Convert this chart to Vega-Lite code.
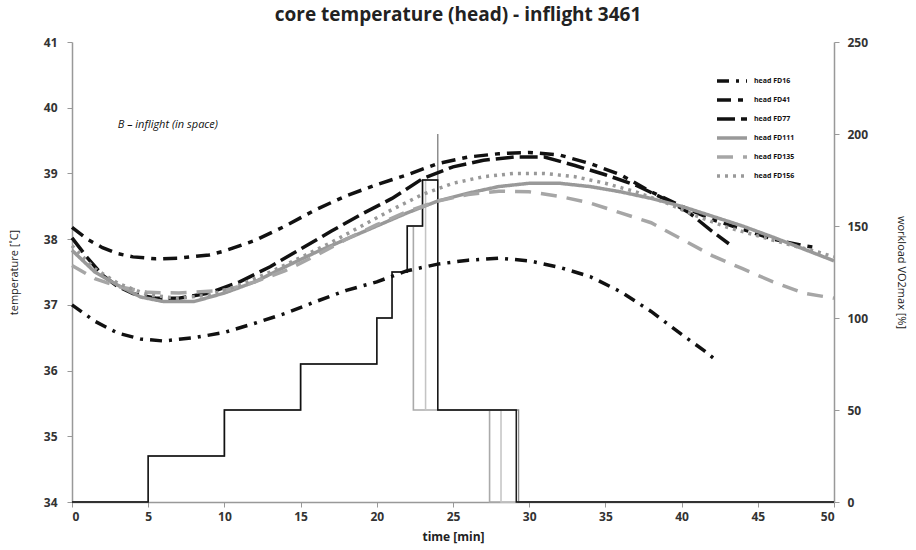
{
  "$schema": "https://vega.github.io/schema/vega-lite/v6.json",
  "width": 762,
  "height": 460,
  "autosize": {"type": "none"},
  "padding": {"left": 72, "top": 42, "right": 82, "bottom": 48},
  "background": "white",
  "title": {"text": "core temperature (head) - inflight 3461", "font": "Open Sans", "fontSize": 19, "fontWeight": "bold", "color": "#222", "offset": 11, "dx": 5},
  "config": {
    "view": {"stroke": null},
    "axis": {"grid": false, "labelFont": "Open Sans", "labelFontWeight": "bold", "labelFontSize": 12, "labelColor": "#333", "domainColor": "#999", "tickColor": "#999", "domainWidth": 1.5, "tickSize": 5, "titleFont": "Open Sans", "titleColor": "#222", "titleFontWeight": "normal", "titleFontSize": 11}
  },
  "datasets": {
    "temp": [
      {"s": "head FD16", "t": 0, "v": 37.0}, {"s": "head FD16", "t": 1.5, "v": 36.75}, {"s": "head FD16", "t": 3, "v": 36.57}, {"s": "head FD16", "t": 4.5, "v": 36.48}, {"s": "head FD16", "t": 6, "v": 36.45}, {"s": "head FD16", "t": 8, "v": 36.5}, {"s": "head FD16", "t": 10, "v": 36.58}, {"s": "head FD16", "t": 12, "v": 36.72}, {"s": "head FD16", "t": 14, "v": 36.87}, {"s": "head FD16", "t": 16, "v": 37.05}, {"s": "head FD16", "t": 18, "v": 37.22}, {"s": "head FD16", "t": 20, "v": 37.35}, {"s": "head FD16", "t": 22, "v": 37.52}, {"s": "head FD16", "t": 24, "v": 37.62}, {"s": "head FD16", "t": 26, "v": 37.68}, {"s": "head FD16", "t": 28, "v": 37.71}, {"s": "head FD16", "t": 30, "v": 37.67}, {"s": "head FD16", "t": 32, "v": 37.57}, {"s": "head FD16", "t": 34, "v": 37.43}, {"s": "head FD16", "t": 36, "v": 37.2}, {"s": "head FD16", "t": 38, "v": 36.9}, {"s": "head FD16", "t": 40, "v": 36.55}, {"s": "head FD16", "t": 41.5, "v": 36.3}, {"s": "head FD16", "t": 42.4, "v": 36.13},
      {"s": "head FD41", "t": 0, "v": 38.18}, {"s": "head FD41", "t": 1, "v": 38.0}, {"s": "head FD41", "t": 2, "v": 37.87}, {"s": "head FD41", "t": 3, "v": 37.78}, {"s": "head FD41", "t": 4, "v": 37.73}, {"s": "head FD41", "t": 5.5, "v": 37.7}, {"s": "head FD41", "t": 7, "v": 37.71}, {"s": "head FD41", "t": 9, "v": 37.76}, {"s": "head FD41", "t": 10, "v": 37.82}, {"s": "head FD41", "t": 12, "v": 37.98}, {"s": "head FD41", "t": 14, "v": 38.2}, {"s": "head FD41", "t": 16, "v": 38.45}, {"s": "head FD41", "t": 18, "v": 38.66}, {"s": "head FD41", "t": 20, "v": 38.83}, {"s": "head FD41", "t": 22, "v": 38.98}, {"s": "head FD41", "t": 24, "v": 39.15}, {"s": "head FD41", "t": 26, "v": 39.25}, {"s": "head FD41", "t": 28, "v": 39.3}, {"s": "head FD41", "t": 30, "v": 39.32}, {"s": "head FD41", "t": 32, "v": 39.28}, {"s": "head FD41", "t": 34, "v": 39.15}, {"s": "head FD41", "t": 36, "v": 38.98}, {"s": "head FD41", "t": 38, "v": 38.72}, {"s": "head FD41", "t": 40, "v": 38.5}, {"s": "head FD41", "t": 42, "v": 38.3}, {"s": "head FD41", "t": 44, "v": 38.15}, {"s": "head FD41", "t": 46, "v": 38.0}, {"s": "head FD41", "t": 48, "v": 37.9}, {"s": "head FD41", "t": 48.9, "v": 37.87},
      {"s": "head FD77", "t": 0, "v": 38.02}, {"s": "head FD77", "t": 1, "v": 37.72}, {"s": "head FD77", "t": 2, "v": 37.45}, {"s": "head FD77", "t": 3, "v": 37.28}, {"s": "head FD77", "t": 4, "v": 37.17}, {"s": "head FD77", "t": 5.5, "v": 37.1}, {"s": "head FD77", "t": 7, "v": 37.1}, {"s": "head FD77", "t": 9, "v": 37.18}, {"s": "head FD77", "t": 11, "v": 37.35}, {"s": "head FD77", "t": 13, "v": 37.58}, {"s": "head FD77", "t": 15, "v": 37.85}, {"s": "head FD77", "t": 17, "v": 38.12}, {"s": "head FD77", "t": 19, "v": 38.38}, {"s": "head FD77", "t": 21, "v": 38.62}, {"s": "head FD77", "t": 23, "v": 38.92}, {"s": "head FD77", "t": 25, "v": 39.1}, {"s": "head FD77", "t": 27, "v": 39.2}, {"s": "head FD77", "t": 29, "v": 39.25}, {"s": "head FD77", "t": 31, "v": 39.25}, {"s": "head FD77", "t": 33, "v": 39.12}, {"s": "head FD77", "t": 35, "v": 38.98}, {"s": "head FD77", "t": 37, "v": 38.82}, {"s": "head FD77", "t": 39, "v": 38.6}, {"s": "head FD77", "t": 40.5, "v": 38.4}, {"s": "head FD77", "t": 42, "v": 38.12}, {"s": "head FD77", "t": 43.1, "v": 37.93},
      {"s": "head FD111", "t": 0, "v": 37.83}, {"s": "head FD111", "t": 1.5, "v": 37.5}, {"s": "head FD111", "t": 3, "v": 37.3}, {"s": "head FD111", "t": 4.5, "v": 37.12}, {"s": "head FD111", "t": 6, "v": 37.05}, {"s": "head FD111", "t": 8, "v": 37.05}, {"s": "head FD111", "t": 10, "v": 37.18}, {"s": "head FD111", "t": 12, "v": 37.35}, {"s": "head FD111", "t": 14, "v": 37.58}, {"s": "head FD111", "t": 16, "v": 37.8}, {"s": "head FD111", "t": 18, "v": 38.0}, {"s": "head FD111", "t": 20, "v": 38.2}, {"s": "head FD111", "t": 22, "v": 38.4}, {"s": "head FD111", "t": 24, "v": 38.58}, {"s": "head FD111", "t": 26, "v": 38.7}, {"s": "head FD111", "t": 28, "v": 38.8}, {"s": "head FD111", "t": 30, "v": 38.85}, {"s": "head FD111", "t": 32, "v": 38.85}, {"s": "head FD111", "t": 34, "v": 38.8}, {"s": "head FD111", "t": 36, "v": 38.72}, {"s": "head FD111", "t": 38, "v": 38.62}, {"s": "head FD111", "t": 40, "v": 38.5}, {"s": "head FD111", "t": 42, "v": 38.35}, {"s": "head FD111", "t": 44, "v": 38.2}, {"s": "head FD111", "t": 46, "v": 38.03}, {"s": "head FD111", "t": 48, "v": 37.85}, {"s": "head FD111", "t": 50, "v": 37.67},
      {"s": "head FD135", "t": 0, "v": 37.6}, {"s": "head FD135", "t": 1.5, "v": 37.4}, {"s": "head FD135", "t": 3, "v": 37.28}, {"s": "head FD135", "t": 5, "v": 37.19}, {"s": "head FD135", "t": 7, "v": 37.18}, {"s": "head FD135", "t": 10, "v": 37.22}, {"s": "head FD135", "t": 12, "v": 37.35}, {"s": "head FD135", "t": 14, "v": 37.52}, {"s": "head FD135", "t": 16, "v": 37.75}, {"s": "head FD135", "t": 18, "v": 38.0}, {"s": "head FD135", "t": 20, "v": 38.22}, {"s": "head FD135", "t": 22, "v": 38.42}, {"s": "head FD135", "t": 24, "v": 38.58}, {"s": "head FD135", "t": 26, "v": 38.68}, {"s": "head FD135", "t": 28, "v": 38.73}, {"s": "head FD135", "t": 30, "v": 38.72}, {"s": "head FD135", "t": 32, "v": 38.65}, {"s": "head FD135", "t": 34, "v": 38.55}, {"s": "head FD135", "t": 36, "v": 38.4}, {"s": "head FD135", "t": 38, "v": 38.25}, {"s": "head FD135", "t": 40, "v": 38.0}, {"s": "head FD135", "t": 42, "v": 37.75}, {"s": "head FD135", "t": 44, "v": 37.55}, {"s": "head FD135", "t": 46, "v": 37.35}, {"s": "head FD135", "t": 48, "v": 37.18}, {"s": "head FD135", "t": 50, "v": 37.1},
      {"s": "head FD156", "t": 0, "v": 37.9}, {"s": "head FD156", "t": 1.5, "v": 37.55}, {"s": "head FD156", "t": 3, "v": 37.33}, {"s": "head FD156", "t": 5, "v": 37.15}, {"s": "head FD156", "t": 7, "v": 37.1}, {"s": "head FD156", "t": 9, "v": 37.15}, {"s": "head FD156", "t": 11, "v": 37.3}, {"s": "head FD156", "t": 13, "v": 37.5}, {"s": "head FD156", "t": 15, "v": 37.72}, {"s": "head FD156", "t": 17, "v": 37.95}, {"s": "head FD156", "t": 19, "v": 38.2}, {"s": "head FD156", "t": 21, "v": 38.45}, {"s": "head FD156", "t": 23, "v": 38.68}, {"s": "head FD156", "t": 25, "v": 38.85}, {"s": "head FD156", "t": 27, "v": 38.95}, {"s": "head FD156", "t": 29, "v": 39.0}, {"s": "head FD156", "t": 31, "v": 39.0}, {"s": "head FD156", "t": 33, "v": 38.95}, {"s": "head FD156", "t": 35, "v": 38.85}, {"s": "head FD156", "t": 37, "v": 38.72}, {"s": "head FD156", "t": 39, "v": 38.55}, {"s": "head FD156", "t": 41, "v": 38.35}, {"s": "head FD156", "t": 43, "v": 38.18}, {"s": "head FD156", "t": 45, "v": 38.05}, {"s": "head FD156", "t": 47, "v": 37.92}, {"s": "head FD156", "t": 49, "v": 37.8}, {"s": "head FD156", "t": 50, "v": 37.73}
    ],
    "load": [
      {"p": "W1", "i": 1, "t": 0, "w": 0}, {"p": "W1", "i": 2, "t": 5, "w": 0}, {"p": "W1", "i": 3, "t": 5, "w": 25}, {"p": "W1", "i": 4, "t": 10, "w": 25}, {"p": "W1", "i": 5, "t": 10, "w": 50}, {"p": "W1", "i": 6, "t": 15, "w": 50}, {"p": "W1", "i": 7, "t": 15, "w": 75}, {"p": "W1", "i": 8, "t": 20, "w": 75}, {"p": "W1", "i": 9, "t": 20, "w": 100}, {"p": "W1", "i": 10, "t": 21, "w": 100}, {"p": "W1", "i": 11, "t": 21, "w": 125}, {"p": "W1", "i": 12, "t": 22, "w": 125}, {"p": "W1", "i": 13, "t": 22, "w": 150}, {"p": "W1", "i": 14, "t": 22.4, "w": 150}, {"p": "W1", "i": 15, "t": 22.4, "w": 50}, {"p": "W1", "i": 16, "t": 27.4, "w": 50}, {"p": "W1", "i": 17, "t": 27.4, "w": 0}, {"p": "W1", "i": 18, "t": 50, "w": 0},
      {"p": "W2", "i": 1, "t": 0, "w": 0}, {"p": "W2", "i": 2, "t": 5, "w": 0}, {"p": "W2", "i": 3, "t": 5, "w": 25}, {"p": "W2", "i": 4, "t": 10, "w": 25}, {"p": "W2", "i": 5, "t": 10, "w": 50}, {"p": "W2", "i": 6, "t": 15, "w": 50}, {"p": "W2", "i": 7, "t": 15, "w": 75}, {"p": "W2", "i": 8, "t": 20, "w": 75}, {"p": "W2", "i": 9, "t": 20, "w": 100}, {"p": "W2", "i": 10, "t": 21, "w": 100}, {"p": "W2", "i": 11, "t": 21, "w": 125}, {"p": "W2", "i": 12, "t": 22, "w": 125}, {"p": "W2", "i": 13, "t": 22, "w": 150}, {"p": "W2", "i": 14, "t": 23, "w": 150}, {"p": "W2", "i": 15, "t": 23, "w": 175}, {"p": "W2", "i": 16, "t": 23.2, "w": 175}, {"p": "W2", "i": 17, "t": 23.2, "w": 50}, {"p": "W2", "i": 18, "t": 28.15, "w": 50}, {"p": "W2", "i": 19, "t": 28.15, "w": 0}, {"p": "W2", "i": 20, "t": 50, "w": 0},
      {"p": "W3", "i": 1, "t": 0, "w": 0}, {"p": "W3", "i": 2, "t": 5, "w": 0}, {"p": "W3", "i": 3, "t": 5, "w": 25}, {"p": "W3", "i": 4, "t": 10, "w": 25}, {"p": "W3", "i": 5, "t": 10, "w": 50}, {"p": "W3", "i": 6, "t": 15, "w": 50}, {"p": "W3", "i": 7, "t": 15, "w": 75}, {"p": "W3", "i": 8, "t": 20, "w": 75}, {"p": "W3", "i": 9, "t": 20, "w": 100}, {"p": "W3", "i": 10, "t": 21, "w": 100}, {"p": "W3", "i": 11, "t": 21, "w": 125}, {"p": "W3", "i": 12, "t": 22, "w": 125}, {"p": "W3", "i": 13, "t": 22, "w": 150}, {"p": "W3", "i": 14, "t": 23, "w": 150}, {"p": "W3", "i": 15, "t": 23, "w": 175}, {"p": "W3", "i": 16, "t": 24, "w": 175}, {"p": "W3", "i": 17, "t": 24, "w": 200}, {"p": "W3", "i": 18, "t": 24, "w": 50}, {"p": "W3", "i": 19, "t": 29.3, "w": 50}, {"p": "W3", "i": 20, "t": 29.3, "w": 0}, {"p": "W3", "i": 21, "t": 50, "w": 0},
      {"p": "W4", "i": 1, "t": 0, "w": 0}, {"p": "W4", "i": 2, "t": 5, "w": 0}, {"p": "W4", "i": 3, "t": 5, "w": 25}, {"p": "W4", "i": 4, "t": 10, "w": 25}, {"p": "W4", "i": 5, "t": 10, "w": 50}, {"p": "W4", "i": 6, "t": 15, "w": 50}, {"p": "W4", "i": 7, "t": 15, "w": 75}, {"p": "W4", "i": 8, "t": 20, "w": 75}, {"p": "W4", "i": 9, "t": 20, "w": 100}, {"p": "W4", "i": 10, "t": 21, "w": 100}, {"p": "W4", "i": 11, "t": 21, "w": 125}, {"p": "W4", "i": 12, "t": 22, "w": 125}, {"p": "W4", "i": 13, "t": 22, "w": 150}, {"p": "W4", "i": 14, "t": 23, "w": 150}, {"p": "W4", "i": 15, "t": 23, "w": 175}, {"p": "W4", "i": 16, "t": 24, "w": 175}, {"p": "W4", "i": 17, "t": 24, "w": 50}, {"p": "W4", "i": 18, "t": 29.15, "w": 50}, {"p": "W4", "i": 19, "t": 29.15, "w": 0}, {"p": "W4", "i": 20, "t": 50, "w": 0}
    ]
  },
  "layer": [
    {
      "data": {"name": "load"},
      "mark": {"type": "line", "strokeJoin": "miter", "strokeCap": "butt"},
      "encoding": {
        "x": {"field": "t", "type": "quantitative", "scale": {"domain": [0, 50], "nice": false}, "axis": {"values": [0, 5, 10, 15, 20, 25, 30, 35, 40, 45, 50], "title": "time [min]", "titleFontWeight": "bold", "titleFontSize": 12, "titlePadding": 9, "labelPadding": 4}},
        "y": {"field": "w", "type": "quantitative", "scale": {"domain": [0, 250], "nice": false}, "axis": {"orient": "right", "values": [0, 50, 100, 150, 200, 250], "format": "d", "title": "workload VO2max [%]", "titlePadding": 28, "labelPadding": 8, "tickSize": 5}},
        "order": {"field": "i", "type": "quantitative"},
        "color": {"field": "p", "type": "nominal", "scale": {"domain": ["W1", "W2", "W3", "W4"], "range": ["#aaaaaa", "#c4c4c4", "#8c8c8c", "#111111"]}, "legend": null},
        "strokeWidth": {"field": "p", "type": "nominal", "scale": {"domain": ["W1", "W2", "W3", "W4"], "range": [1.6, 1.4, 3.5, 1.8]}, "legend": null}
      }
    },
    {
      "layer": [
        {
          "data": {"name": "temp"},
          "mark": {"type": "line", "strokeCap": "butt"},
          "encoding": {
            "x": {"field": "t", "type": "quantitative", "scale": {"domain": [0, 50], "nice": false}},
            "y": {"field": "v", "type": "quantitative", "scale": {"domain": [34, 41], "nice": false, "zero": false}, "axis": {"values": [34, 35, 36, 37, 38, 39, 40, 41], "format": "d", "title": "temperature [˚C]", "titlePadding": 24, "labelPadding": 10}},
            "color": {"field": "s", "type": "nominal", "sort": ["head FD16", "head FD41", "head FD77", "head FD111", "head FD135", "head FD156"], "scale": {"domain": ["head FD16", "head FD41", "head FD77", "head FD111", "head FD135", "head FD156"], "range": ["#111111", "#111111", "#111111", "#999999", "#a6a6a6", "#999999"]}, "legend": {"title": null, "orient": "none", "legendX": 648, "legendY": 27, "symbolType": "M-1.5,0L1.5,0", "symbolSize": 400, "labelFont": "Open Sans", "labelFontSize": 7, "labelFontWeight": "bold", "labelColor": "#111", "rowPadding": 0, "labelOffset": 10, "padding": 0}},
            "strokeDash": {"field": "s", "type": "nominal", "sort": ["head FD16", "head FD41", "head FD77", "head FD111", "head FD135", "head FD156"], "scale": {"domain": ["head FD16", "head FD41", "head FD77", "head FD111", "head FD135", "head FD156"], "range": [[12, 7, 3, 7], [14, 7, 5, 7], [18, 6], [1, 0], [16, 10], [3, 5]]}},
            "strokeWidth": {"field": "s", "type": "nominal", "sort": ["head FD16", "head FD41", "head FD77", "head FD111", "head FD135", "head FD156"], "scale": {"domain": ["head FD16", "head FD41", "head FD77", "head FD111", "head FD135", "head FD156"], "range": [3.5, 3.5, 3.5, 3, 3, 2.5]}}
          }
        },
        {
          "data": {"values": [{}]},
          "mark": {"type": "text", "align": "left", "baseline": "middle", "font": "Open Sans", "fontStyle": "italic", "fontSize": 11, "color": "#111"},
          "encoding": {
            "x": {"datum": 3.0, "type": "quantitative"},
            "y": {"datum": 39.74, "type": "quantitative"},
            "text": {"value": "B – inflight (in space)"}
          }
        }
      ]
    }
  ],
  "resolve": {"scale": {"y": "independent", "color": "independent", "strokeWidth": "independent", "strokeDash": "independent"}, "axis": {"y": "independent"}}
}
